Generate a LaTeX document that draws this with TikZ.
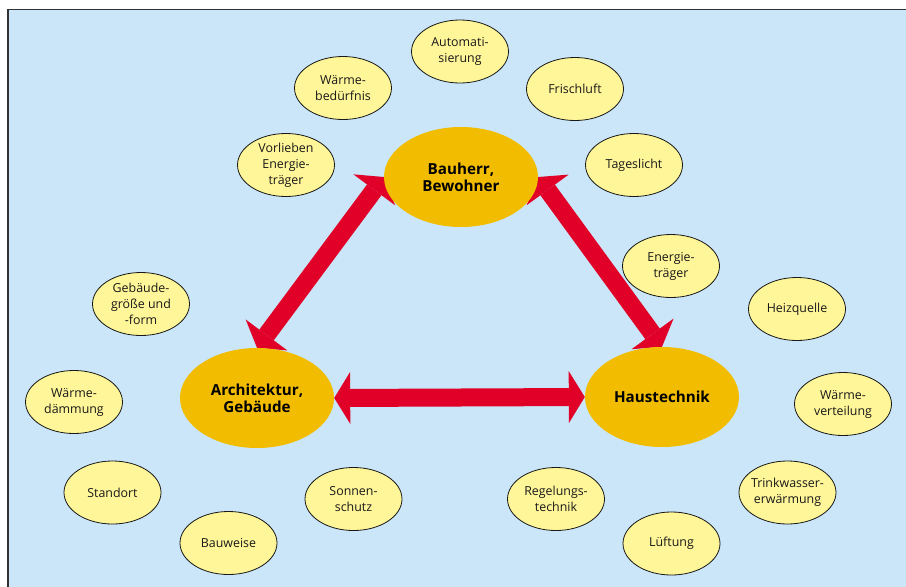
\documentclass[tikz,border=0pt]{standalone}
\usepackage{fontspec}
\setmainfont{Open Sans}
\usetikzlibrary{shapes.geometric,arrows.meta}

\definecolor{panelblue}{RGB}{202,230,248}
\definecolor{framegray}{RGB}{50,50,50}
\definecolor{mainorange}{RGB}{242,189,0}
\definecolor{softyellow}{RGB}{255,246,153}
\definecolor{arrowred}{RGB}{225,0,40}
\definecolor{inkdark}{RGB}{25,25,25}

\pgfdeclarelayer{back}
\pgfdeclarelayer{links}
\pgfsetlayers{back,links,main}

\tikzset{
  mainnode/.style={ellipse, fill=mainorange, minimum width=154pt, minimum height=100pt,
    inner sep=0pt, align=center, text=black,
    font=\fontsize{15.2}{17}\selectfont\bfseries},
  factor/.style={ellipse, draw=inkdark, line width=0.8pt, fill=softyellow,
    minimum width=97pt, minimum height=63pt, inner sep=0pt},
  factortext/.style={align=center, text=inkdark, inner sep=0pt,
    font=\fontsize{12.4}{16}\selectfont},
  fac/.style={factor, label={[factortext]center:{#1}}},
  bigarrow/.style={draw=arrowred, line width=18pt, {Triangle[length=16pt,width=52pt,line width=0pt]}-{Triangle[length=16pt,width=52pt,line width=0pt]}},
  panel/.style={fill=panelblue},
  frameline/.style={draw=framegray, line width=1.5pt}
}

\begin{document}
\begin{tikzpicture}[x=1pt, y=-1pt]
  \useasboundingbox (0,0) rectangle (906,587);

  % white page with the blue panel and its frame
  \begin{pgfonlayer}{back}
    \fill[white] (0,0) rectangle (906,587);
    \fill[panel] (8,9.5) rectangle (906,587);
    \draw[frameline] (8,587) -- (8,9.5) -- (906,9.5);
  \end{pgfonlayer}

  % the three main actors
  \node[mainnode] (bau)  at (461,177) {Bauherr,\\Bewohner};
  \node[mainnode] (arch) at (257,398) {Architektur,\\Gebäude};
  \node[mainnode] (haus) at (662,397) {Haustechnik};

  % influencing factors
  \node[fac={Automati-\\sierung}]               (auto)   at (460,51.5) {};
  \node[fac={Wärme-\\bedürfnis}]                (wbed)   at (343,88) {};
  \node[fac={Frischluft}]                       (frisch) at (575,89) {};
  \node[fac={Vorlieben\\Energie-\\träger}]      (vorl)   at (286,165) {};
  \node[fac={Tageslicht}]                       (tages)  at (634,165) {};
  \node[fac={Energie-\\träger}]                 (etr)    at (671,266) {};
  \node[fac={Heizquelle}]                       (heiz)   at (797,309) {};
  \node[fac={Gebäude-\\größe und\\-form}]       (groesse) at (141,304) {};
  \node[fac={Wärme-\\dämmung}]                  (daemm)  at (74,402) {};
  \node[fac={Wärme-\\verteilung}]               (vert)   at (843,404) {};
  \node[fac={Standort}]                         (stand)  at (112.5,492.5) {};
  \node[fac={Bauweise}]                         (bauw)   at (228.5,543) {};
  \node[fac={Sonnen-\\schutz}]                  (sonne)  at (353.5,499) {};
  \node[fac={Regelungs-\\technik}]              (regel)  at (556,499) {};
  \node[fac={Lüftung}]                          (lueft)  at (671.5,543.5) {};
  \node[fac={Trinkwasser-\\erwärmung}]          (trink)  at (787.5,492.5) {};

  % mutual relations between the actors
  \begin{pgfonlayer}{links}
    \draw[bigarrow] (bau.west) -- (arch.north);
    \draw[bigarrow] (bau.east) -- (haus.north);
    \draw[bigarrow] (arch.east) -- (haus.west);
  \end{pgfonlayer}
\end{tikzpicture}
\end{document}
